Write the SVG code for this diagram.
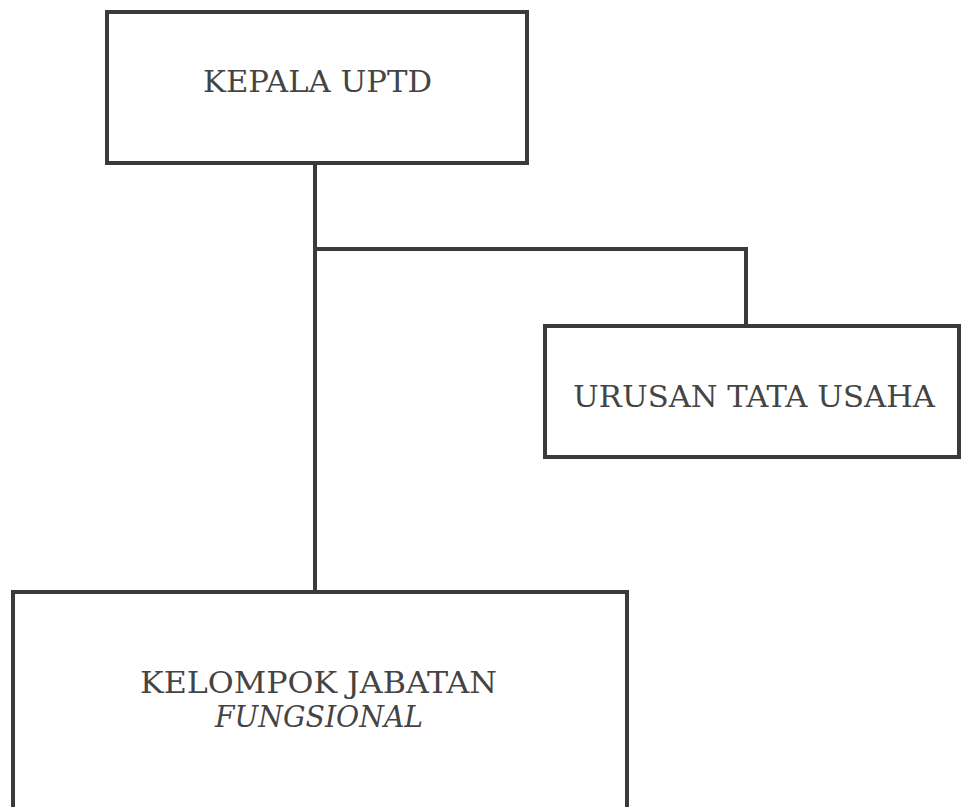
<svg xmlns="http://www.w3.org/2000/svg" width="961" height="807" viewBox="0 0 961 807">
<style>
.box{fill:#fff;stroke:#3a3a3a;stroke-width:4}
.ln{fill:none;stroke:#3a3a3a;stroke-width:4;stroke-linejoin:miter}
.t{font-family:"DejaVu Serif","Liberation Serif",serif;font-size:29px;fill:#444;text-anchor:middle}
</style>
<rect width="961" height="807" fill="#fff"/>
<g id="connectors">
<path class="ln" d="M315 163V592"/>
<path class="ln" d="M315 249H746V326"/>
</g>
<g id="kepala">
<rect class="box" x="107" y="12" width="420" height="151"/>
<text class="t" x="317.5" y="92" textLength="229" lengthAdjust="spacingAndGlyphs" font-size="28">KEPALA UPTD</text>
</g>
<g id="urusan">
<rect class="box" x="545" y="326" width="414" height="131"/>
<text class="t" x="754" y="407" textLength="362" lengthAdjust="spacingAndGlyphs">URUSAN TATA USAHA</text>
</g>
<g id="kelompok">
<rect class="box" x="13" y="592" width="614" height="230"/>
<text class="t" x="318.5" y="693" textLength="357" lengthAdjust="spacingAndGlyphs">KELOMPOK JABATAN</text>
<text class="t" x="319" y="727" font-style="italic" textLength="208" lengthAdjust="spacingAndGlyphs">FUNGSIONAL</text>
</g>
</svg>
